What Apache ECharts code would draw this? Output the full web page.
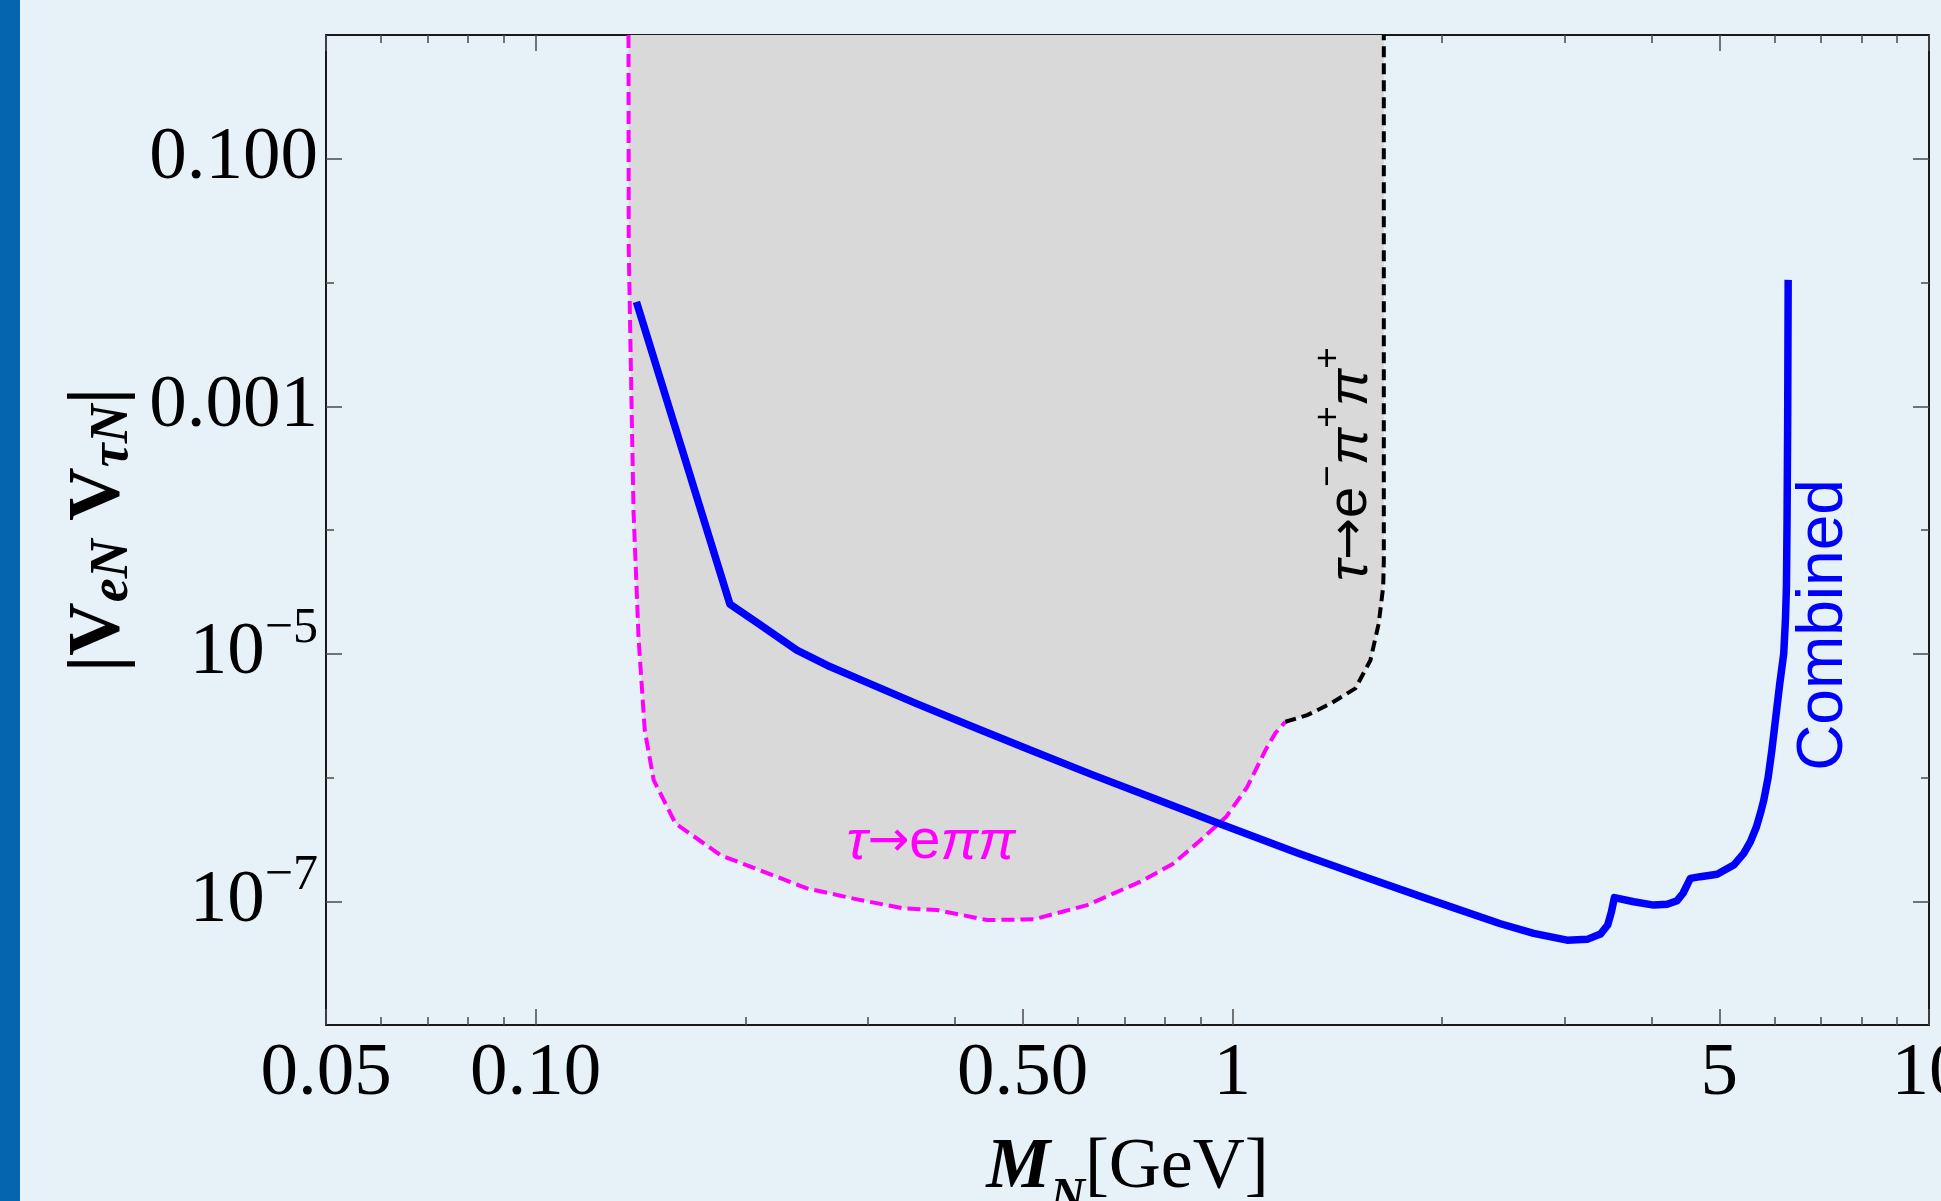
<!DOCTYPE html>
<html>
<head>
<meta charset="utf-8">
<script src="https://cdn.jsdelivr.net/npm/echarts@6/dist/echarts.min.js"></script>
<style>
  html, body { margin: 0; padding: 0; background: #e6f1f8; }
  #chart { width: 1941px; height: 1201px; }
</style>
</head>
<body>
<div id="chart"></div>
<script>
// x: M_N [GeV], y: |V_eN V_tauN|

// tau -> e pi pi bound (magenta dashed)
const epipiMass = [0.1359, 0.1360, 0.1372, 0.1382, 0.1405, 0.1434, 0.1477, 0.1587, 0.1841, 0.2452, 0.2860, 0.3375,
  0.3769, 0.4446, 0.5186, 0.6188, 0.7379, 0.8210, 0.8947, 0.9790, 1.0495, 1.1154, 1.1530, 1.1915]
const epipiMix = [1, 1.91e-2, 1.19e-3, 1.37e-4, 1.33e-5, 2.40e-6, 9.53e-7, 4.26e-7, 2.36e-7, 1.27e-7, 1.05e-7, 8.75e-8,
  8.49e-8, 7.05e-8, 7.14e-8, 9.31e-8, 1.44e-7, 2.0e-7, 3.02e-7, 4.79e-7, 8.32e-7, 1.66e-6, 2.29e-6, 2.82e-6]

// tau -> e- pi+ pi+ bound (black dashed)
const epippMass = [1.1915, 1.2804, 1.3864, 1.5021, 1.5783, 1.6223, 1.6463, 1.6497, 1.6497]
const epippMix = [2.82e-6, 3.19e-6, 3.98e-6, 5.25e-6, 8.87e-6, 1.76e-5, 3.47e-5, 5.70e-5, 1]

// combined sensitivity (blue)
const combinedMass = [0.1395, 0.1900, 0.2111, 0.2370, 0.2622, 0.2913, 0.3520, 0.4214, 0.5085, 0.6275, 0.7659, 0.9487,
  1.2376, 1.5357, 1.8841, 2.4253, 2.7071, 3.0234, 3.2311, 3.3756, 3.4580, 3.5007, 3.5353, 3.7683, 4.0260, 4.2078,
  4.3495, 4.4358, 4.5442, 4.6972, 4.9642, 5.2439, 5.4209, 5.5419, 5.6522, 5.7338, 5.7923, 5.8762, 5.9487, 6.0193,
  6.1035, 6.1866, 6.2222, 6.2425, 6.2553, 6.2681, 6.2784]
const combinedMix = [6.97e-3, 2.52e-5, 1.68e-5, 1.07e-5, 8.04e-6, 6.24e-6, 3.95e-6, 2.61e-6, 1.70e-6, 1.06e-6, 6.89e-7, 4.32e-7,
  2.47e-7, 1.60e-7, 1.07e-7, 6.58e-8, 5.50e-8, 4.85e-8, 4.92e-8, 5.43e-8, 6.43e-8, 8.22e-8, 1.07e-7, 9.91e-8, 9.31e-8, 9.44e-8,
  1.01e-7, 1.16e-7, 1.53e-7, 1.58e-7, 1.65e-7, 1.96e-7, 2.44e-7, 3.03e-7, 3.98e-7, 5.25e-7, 6.56e-7, 1.0e-6, 1.66e-6, 2.91e-6,
  5.62e-6, 1.0e-5, 1.9e-5, 3.47e-5, 1.2e-4, 7.71e-4, 1.05e-2]

// ticks
const xMajor = [0.05, 0.1, 0.5, 1, 5, 10]
const xMajorLabels = ['0.05', '0.10', '0.50', '1', '5', '10']
const xMinor = [0.06, 0.07, 0.08, 0.09, 0.2, 0.3, 0.4, 0.6, 0.7, 0.8, 0.9, 2, 3, 4, 6, 7, 8, 9]
const yMajor = [0.1, 0.001, 1e-5, 1e-7]
const yMajorLabels = ['0.100', '0.001', '{m|10}{s|\u22125}', '{m|10}{s|\u22127}']
const yMinor = [0.01, 1e-4, 1e-6]

const zip = (a, b) => a.map((v, i) => [v, b[i]])
const pick = (ticks, labels) => (v) => {
  const i = ticks.findIndex((t) => Math.abs(Math.log10(t) - Math.log10(v)) < 1e-6)
  return i < 0 ? '' : labels[i]
}

const serif = 'Liberation Serif'
const sans = 'Liberation Sans'
const frame = { show: true, lineStyle: { color: '#1a1a1a', width: 2 } }
const tickStyle = { color: '#4a4a4a', width: 1.5 }

const xBase = { type: 'log', logBase: 10, min: 0.05, max: 10, gridIndex: 0, splitLine: { show: false } }
const yBase = { type: 'log', logBase: 10, min: 1e-8, max: 1, gridIndex: 0, splitLine: { show: false } }

const makeX = (position, ticks, len, withLabels) => Object.assign({}, xBase, {
  position,
  axisLine: withLabels !== null ? frame : { show: false },
  axisTick: { show: true, inside: true, length: len, customValues: ticks, lineStyle: tickStyle },
  axisLabel: withLabels ? {
    show: true, customValues: ticks, formatter: pick(xMajor, xMajorLabels), margin: 12,
    fontFamily: serif, fontSize: 75, color: '#000'
  } : { show: false }
})
const makeY = (position, ticks, len, withLabels) => Object.assign({}, yBase, {
  position,
  axisLine: withLabels !== null ? frame : { show: false },
  axisTick: { show: true, inside: true, length: len, customValues: ticks, lineStyle: tickStyle },
  axisLabel: withLabels ? {
    show: true, customValues: ticks, formatter: pick(yMajor, yMajorLabels), margin: 8,
    fontFamily: serif, fontSize: 75, color: '#000',
    rich: {
      m: { fontFamily: serif, fontSize: 75, color: '#000' },
      s: { fontFamily: serif, fontSize: 50, color: '#000', verticalAlign: 'top', lineHeight: 100 }
    }
  } : { show: false }
})

const xAxes = [
  makeX('bottom', xMajor, 16, true),
  makeX('bottom', xMinor, 8, null),
  makeX('top', xMajor, 16, false),
  makeX('top', xMinor, 8, null)
]
Object.assign(xAxes[0], {
  name: '{mi|M}{sub|N}[GeV]',
  nameLocation: 'middle',
  nameGap: 88,
  nameMoveOverlap: false,
  nameTextStyle: {
    fontFamily: serif, fontSize: 72, color: '#000',
    rich: {
      mi: { fontFamily: serif, fontSize: 72, fontWeight: 'bold', fontStyle: 'italic', color: '#000' },
      sub: { fontFamily: serif, fontSize: 48, fontWeight: 'bold', fontStyle: 'italic', color: '#000', verticalAlign: 'bottom', lineHeight: 110 }
    }
  }
})

const yAxes = [
  makeY('left', yMajor, 16, true),
  makeY('left', yMinor, 8, null),
  makeY('right', yMajor, 16, false),
  makeY('right', yMinor, 8, null)
]
Object.assign(yAxes[0], {
  name: '{v||V}{s|eN}{v| V}{s|\u03c4N}{v||}',
  nameLocation: 'middle',
  nameRotate: 90,
  nameGap: 186,
  nameMoveOverlap: false,
  nameTextStyle: {
    fontFamily: serif, fontSize: 74, fontWeight: 'bold', color: '#000',
    rich: {
      v: { fontFamily: serif, fontSize: 74, fontWeight: 'bold', color: '#000' },
      s: { fontFamily: serif, fontSize: 54, fontWeight: 'bold', fontStyle: 'italic', color: '#000', verticalAlign: 'bottom', lineHeight: 80 }
    }
  }
})

const chart = echarts.init(document.getElementById('chart'), null, { renderer: 'canvas' })

const option = {
  animation: false,
  backgroundColor: '#e6f1f8',
  grid: { left: 326, top: 35, width: 1603, height: 990, containLabel: false, outerBoundsMode: 'none' },
  xAxis: xAxes,
  yAxis: yAxes,
  graphic: [
    { type: 'rect', left: 0, top: 0, shape: { width: 20, height: 1201 }, style: { fill: '#0566af' }, z: 100 },
    {
      type: 'text', x: 931, y: 843, z: 100,
      style: {
        text: '{i|\u03c4}{a|\u2192}{n|e}{i|\u03c0\u03c0}', align: 'center', verticalAlign: 'middle',
        rich: {
          i: { fontFamily: sans, fontSize: 56, fontStyle: 'italic', fill: '#ff00ff' },
          a: { fontFamily: 'DejaVu Sans', fontSize: 50, fill: '#ff00ff' },
          n: { fontFamily: sans, fontSize: 56, fill: '#ff00ff' }
        }
      }
    },
    {
      type: 'text', x: 1351, y: 464, rotation: Math.PI / 2, z: 100,
      style: {
        text: '{i|\u03c4}{a|\u2192}{n|e}{s|\u2212}{i|\u03c0}{s|+}{i|\u03c0}{s|+}', align: 'center', verticalAlign: 'middle',
        rich: {
          i: { fontFamily: sans, fontSize: 56, fontStyle: 'italic', fill: '#000' },
          a: { fontFamily: 'DejaVu Sans', fontSize: 50, fill: '#000' },
          n: { fontFamily: sans, fontSize: 56, fill: '#000' },
          s: { fontFamily: sans, fontSize: 37, fill: '#000', verticalAlign: 'top', lineHeight: 82 }
        }
      }
    },
    {
      type: 'text', x: 1824, y: 625, rotation: Math.PI / 2, z: 100,
      style: { text: 'Combined', fontFamily: sans, fontSize: 64, fill: '#0000ff', align: 'center', verticalAlign: 'middle' }
    }
  ],
  series: [
    {
      name: 'excluded',
      type: 'line',
      data: zip(epipiMass, epipiMix).concat(zip(epippMass, epippMix).slice(1)),
      symbol: 'none',
      lineStyle: { width: 0, opacity: 0 },
      areaStyle: { color: '#d9d9d9', opacity: 1, origin: 'end' },
      z: 1
    },
    {
      name: 'tau->e pi pi',
      type: 'line',
      data: zip(epipiMass, epipiMix),
      symbol: 'none',
      lineStyle: { color: '#ff00ff', width: 4, type: [13, 6] },
      z: 3
    },
    {
      name: 'tau->e- pi+ pi+',
      type: 'line',
      data: zip(epippMass, epippMix),
      symbol: 'none',
      lineStyle: { color: '#000', width: 4, type: [11, 6] },
      z: 3
    },
    {
      name: 'Combined',
      type: 'line',
      data: zip(combinedMass, combinedMix),
      symbol: 'none',
      lineStyle: { color: '#0000ff', width: 7.5, join: 'round' },
      z: 4
    }
  ]
}

chart.setOption(option)
</script>
</body>
</html>
